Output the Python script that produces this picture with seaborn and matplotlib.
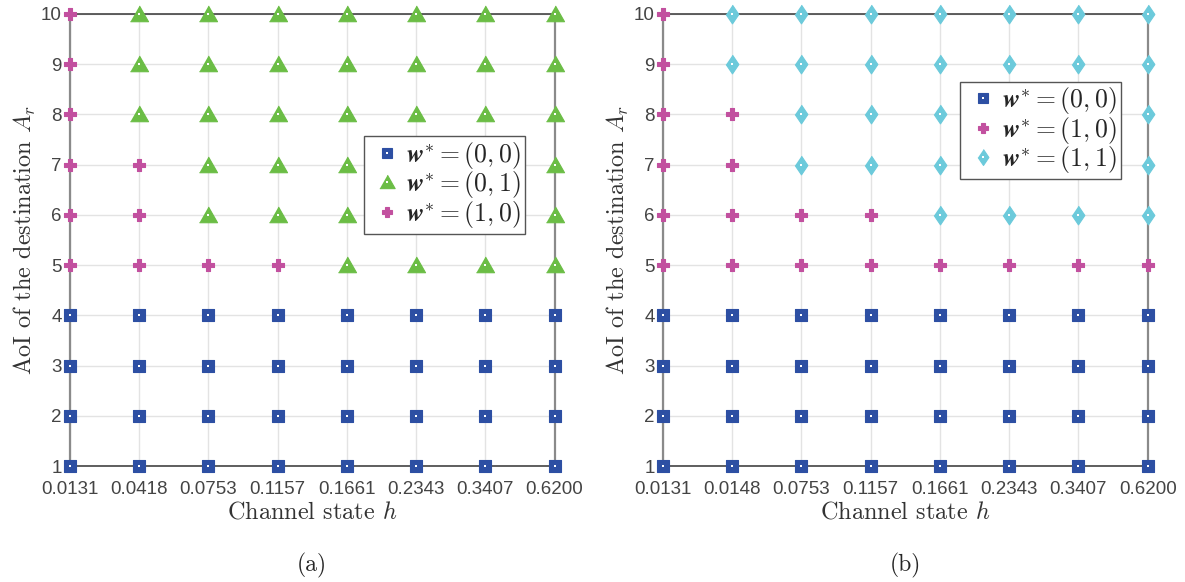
import pandas as pd
import numpy as np
import seaborn as sns
import matplotlib.pyplot as plt
from matplotlib.lines import Line2D

# channel states (x tick labels) for the two panels
h_a = ['0.0131', '0.0418', '0.0753', '0.1157', '0.1661', '0.2343', '0.3407', '0.6200']
h_b = ['0.0131', '0.0148', '0.0753', '0.1157', '0.1661', '0.2343', '0.3407', '0.6200']
aoi = [1, 2, 3, 4, 5, 6, 7, 8, 9, 10]

# optimal action per channel state, listed for AoI = 1..10
policy_a = [
    ['00', '00', '00', '00', '10', '10', '10', '10', '10', '10'],
    ['00', '00', '00', '00', '10', '10', '10', '01', '01', '01'],
    ['00', '00', '00', '00', '10', '01', '01', '01', '01', '01'],
    ['00', '00', '00', '00', '10', '01', '01', '01', '01', '01'],
    ['00', '00', '00', '00', '01', '01', '01', '01', '01', '01'],
    ['00', '00', '00', '00', '01', '01', '01', '01', '01', '01'],
    ['00', '00', '00', '00', '01', '01', '01', '01', '01', '01'],
    ['00', '00', '00', '00', '01', '01', '01', '01', '01', '01'],
]
policy_b = [
    ['00', '00', '00', '00', '10', '10', '10', '10', '10', '10'],
    ['00', '00', '00', '00', '10', '10', '10', '10', '11', '11'],
    ['00', '00', '00', '00', '10', '10', '11', '11', '11', '11'],
    ['00', '00', '00', '00', '10', '10', '11', '11', '11', '11'],
    ['00', '00', '00', '00', '10', '11', '11', '11', '11', '11'],
    ['00', '00', '00', '00', '10', '11', '11', '11', '11', '11'],
    ['00', '00', '00', '00', '10', '11', '11', '11', '11', '11'],
    ['00', '00', '00', '00', '10', '11', '11', '11', '11', '11'],
]

labels = {'00': r'$\mathbfit{w}^{*}=(0,0)\hspace{0.45}$', '01': r'$\mathbfit{w}^{*}=(0,1)\hspace{0.45}$',
          '10': r'$\mathbfit{w}^{*}=(1,0)\hspace{0.45}$', '11': r'$\mathbfit{w}^{*}=(1,1)\hspace{0.45}$'}
colors = {'00': '#2d4fa3', '01': '#6bbd45', '10': '#c2509f', '11': '#6ccadb'}
tri = [(-1, -0.8), (1, -0.8), (0, 0.95)]
diam = [(0, 1), (0.68, 0), (0, -1), (-0.68, 0)]
# marker shape, size (pt) and whether it carries the small white centre dot
styles = {
    '00': dict(marker='s', ms=8.5, dot=True),
    '01': dict(marker=tri, ms=13.0, dot=True),
    '10': dict(marker='P', ms=8.0, dot=False),
    '11': dict(marker=diam, ms=13.5, dot=True),
}

sns.set_style('whitegrid')
plt.rcParams['mathtext.fontset'] = 'cm'

fig = plt.figure(figsize=(11.85, 5.82), dpi=100)
ax_a = fig.add_axes([0.059, 0.1993, 0.409, 0.777])
ax_b = fig.add_axes([0.5595, 0.1993, 0.409, 0.777])


def draw(ax, hs, policy, order, legend_anchor, caption):
    rows = []
    for i, col in enumerate(policy):
        for a, p in zip(aoi, col):
            rows.append({'x': i, 'y': a, 'policy': p})
    df = pd.DataFrame(rows)
    for p in order:
        sub = df[df['policy'] == p]
        st = styles[p]
        sns.scatterplot(data=sub, x='x', y='y', ax=ax, legend=False, marker=st['marker'],
                        s=st['ms'] ** 2, color=colors[p], edgecolor=colors[p],
                        linewidth=0.8, clip_on=False, zorder=4)
        if st['dot']:
            sns.scatterplot(data=sub, x='x', y='y', ax=ax, legend=False, marker='s',
                            s=4.5, color='white', linewidth=0, clip_on=False, zorder=5)
    ax.set_xlim(0, len(hs) - 1)
    ax.set_ylim(1, 10)
    ax.set_xticks(range(len(hs)))
    ax.set_xticklabels(hs)
    ax.set_yticks(aoi)
    ax.tick_params(axis='x', length=0, pad=10.5, labelsize=13.5, labelcolor='#444444')
    ax.tick_params(axis='y', length=0, pad=6, labelsize=13.5, labelcolor='#444444')
    for t in ax.get_xticklabels() + ax.get_yticklabels():
        t.set_fontfamily('Liberation Sans')
    ax.grid(True, color='#e3e3e3', linewidth=1)
    for side in ['left', 'right']:
        ax.spines[side].set_color('#8a8a8a')
        ax.spines[side].set_linewidth(1.6)
    for side in ['top', 'bottom']:
        ax.spines[side].set_color('#333333')
        ax.spines[side].set_linewidth(1.1)
    ax.set_xlabel('Channel state $h$', fontsize=17.5, fontfamily='cmr10',
                  color='#333333', labelpad=3)
    ax.set_ylabel('AoI of the destination $A_r$', fontsize=17.5, fontfamily='cmr10',
                  color='#333333', labelpad=2)
    handles = []
    for p in order:
        st = styles[p]
        h = Line2D([], [], linestyle='none', marker=st['marker'], markersize=st['ms'] * 0.85,
                   markerfacecolor=colors[p], markeredgecolor=colors[p], markeredgewidth=0.8)
        if st['dot']:
            d = Line2D([], [], linestyle='none', marker='s', markersize=2.1,
                       markerfacecolor='white', markeredgewidth=0)
            handles.append((h, d))
        else:
            handles.append(h)
    leg = ax.legend(handles=handles, labels=[labels[p] for p in order],
                    loc='upper right', bbox_to_anchor=legend_anchor,
                    fontsize=18.5, frameon=True, fancybox=False, framealpha=1,
                    edgecolor='#555555', borderpad=0.15, labelspacing=-0.06,
                    handletextpad=0.0, handlelength=1.5, borderaxespad=0)
    leg.get_frame().set_linewidth(1.0)
    ax.text(0.5, -0.22, caption, transform=ax.transAxes, ha='center', va='center',
            fontsize=17, fontfamily='cmr10')


draw(ax_a, h_a, policy_a, ['00', '01', '10'], (0.938, 0.730), '(a)')
draw(ax_b, h_b, policy_b, ['00', '10', '11'], (0.944, 0.850), '(b)')

fig.savefig('out.png', dpi=100)
